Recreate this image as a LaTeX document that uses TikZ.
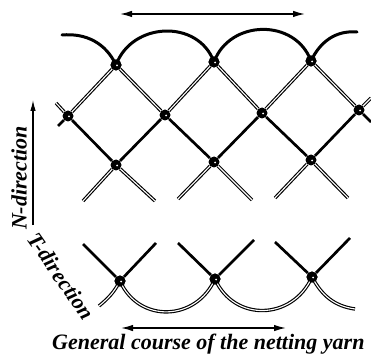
\documentclass[tikz,border=0pt]{standalone}
\usepackage{fontspec}
\setmainfont{Liberation Serif}
\usetikzlibrary{arrows.meta}
\tikzset{
  x=1pt,y=1pt,
  knot/.style={circle,fill=black,inner sep=0pt,minimum size=11pt,path picture={\fill[white] ([shift={(1pt,-0.5pt)}]path picture bounding box.center) circle (1pt);}},
  thick line/.style={line width=2.7pt,black},
  arc line/.style={line width=3pt,black},
  twin/.style={double=white,double distance=1.1pt,line width=1.15pt,black},
  course/.style={line width=1.4pt,{Latex[length=12pt,width=6.5pt]}-{Latex[length=12pt,width=6.5pt]}},
  caption/.style={font=\fontsize{22}{24}\selectfont\bfseries\itshape,inner sep=0pt}
}
\begin{document}
\begin{tikzpicture}
\useasboundingbox (0,0) rectangle (371,356);
\node[knot] (t1) at (116,291) {};
\node[knot] (t2) at (214,294) {};
\node[knot] (t3) at (311,295) {};
\node[knot] (m0) at (68,240) {};
\node[knot] (m1) at (165,241) {};
\node[knot] (m2) at (262,243) {};
\node[knot] (m3) at (359,246) {};
\node[knot] (r1) at (116,191) {};
\node[knot] (r2) at (214,194) {};
\node[knot] (r3) at (311,196) {};
\node[knot] (b1) at (120,75) {};
\node[knot] (b2) at (215,77) {};
\node[knot] (b3) at (312,79) {};
\coordinate (a0) at (62,321);
\coordinate (a3) at (357,324);
\coordinate (l1) at (56,253);
\coordinate (l2) at (58,230);
\coordinate (e1) at (371,258);
\coordinate (e2) at (371,234);
\coordinate (p1) at (83,155);
\coordinate (p2) at (155,155);
\coordinate (p3) at (178,157);
\coordinate (p4) at (252,156);
\coordinate (p5) at (275,158);
\coordinate (p6) at (348,158);
\coordinate (q1) at (83,112);
\coordinate (q2) at (156,113);
\coordinate (q3) at (178,113);
\coordinate (q4) at (254,116);
\coordinate (q5) at (275,114);
\coordinate (q6) at (350,118);
\coordinate (s1) at (99,50);
\coordinate (s2) at (355,47);
\coordinate (h1) at (120,342);
\coordinate (h2) at (305,342);
\coordinate (k1) at (121,28);
\coordinate (k2) at (286,28);
\coordinate (v1) at (33,131);
\coordinate (v2) at (33,256);
% double strands
\foreach \a/\b in {t1/m0,t1/m1,m1/t2,t2/m2,m2/t3,t3/m3,m0/l1,m3/e1,r1/p1,r1/p2,r2/p3,r2/p4,r3/p5,r3/p6}
  \draw[twin] (\a) -- (\b);
% thick strands
\foreach \a/\b in {m0/r1,r1/m1,m1/r2,r2/m2,m2/r3,r3/m3,m0/l2,m3/e2,b1/q1,b1/q2,b2/q3,b2/q4,b3/q5,b3/q6}
  \draw[thick line] (\a) -- (\b);
% top arcs
\draw[arc line,line cap=round] (a0) to[out=5,in=115,looseness=1] (t1.center);
\draw[arc line] (t1.center) to[out=70,in=110,looseness=1.2] (t2.center);
\draw[arc line] (t2.center) to[out=70,in=110,looseness=1.2] (t3.center);
\draw[arc line,line cap=round] (t3.center) to[out=65,in=175,looseness=1] (a3);
% bottom arcs
\draw[twin] (b1.center) to[out=-118,in=40] (s1);
\draw[twin] (b1.center) to[out=-66,in=-114,looseness=1.25] (b2.center);
\draw[twin] (b2.center) to[out=-66,in=-114,looseness=1.25] (b3.center);
\draw[twin] (b3.center) to[out=-62,in=172] (s2);
% redraw knots on top
\foreach \k in {t1,t2,t3,b1,b2,b3}
  \node[knot] at (\k) {};
% direction arrows
\draw[course] (h1) -- (h2);
\draw[course] (k1) -- (k2);
\draw[line width=1.2pt,-{Latex[length=11pt,width=5.5pt]}] (v1) -- (v2);
% captions
\node[caption,rotate=90] (nd) at (19,178) {N-direction};
\node[caption,rotate=-55] (td) at (61,80) {T-direction};
\node[caption,anchor=base west] (gc) at (52,7) {General course of the netting yarn};
\end{tikzpicture}
\end{document}
